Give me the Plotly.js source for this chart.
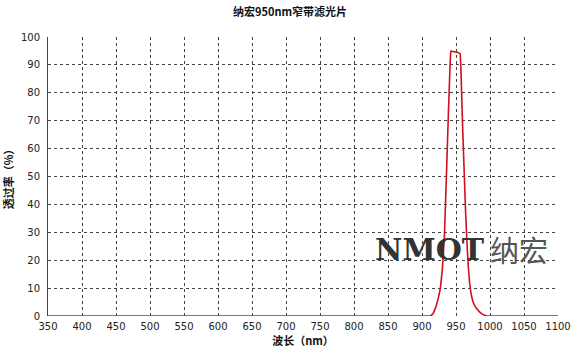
<!DOCTYPE html>
<html><head><meta charset="utf-8">
<script src="https://cdn.plot.ly/plotly-3.0.1.min.js"></script>
<style>html,body{margin:0;padding:0;background:#fff}#c{width:580px;height:357px}</style>
</head><body><div id="c"></div>
<script>
const wavelength = [350, 700, 900, 912, 916, 920, 924, 927, 930, 933, 936, 939, 941, 942.5, 946, 950, 954, 956, 957, 958, 960, 962, 964, 966, 968, 970, 973, 976, 980, 985, 990, 996, 1100];
const transmittance = [0, 0, 0, 0, 0.8, 3, 6.5, 10, 17, 29, 51, 74, 88, 95, 94.8, 94.6, 94.3, 94, 90, 82, 66, 52, 38, 27, 18, 12, 7, 4.5, 2.8, 1.4, 0.5, 0, 0];
const xTicks = [350,400,450,500,550,600,650,700,750,800,850,900,950,1000,1050,1100];
const yTicks = [0,10,20,30,40,50,60,70,80,90,100];
const chartTitle = '纳宏950nm窄带滤光片';
const xLabel = '波长（nm）';
const yLabel = '透过率（%）';
const watermarkLatin = 'NMOT';
const watermarkCJK = '纳宏';

const tickFont = {family: 'DejaVu Sans, sans-serif', size: 10, color: '#222'};
Plotly.newPlot('c', [{
  x: wavelength, y: transmittance, type: 'scatter', mode: 'lines',
  line: {color: '#d0101e', width: 1.6, shape: 'spline', smoothing: 0.2},
  hoverinfo: 'skip', showlegend: false
}], {
  width: 580, height: 357,
  margin: {l: 48, r: 22, t: 37, b: 41},
  paper_bgcolor: '#fff', plot_bgcolor: '#fff',
  title: {text: '<b>' + chartTitle + '</b>', x: 0.5, xanchor: 'center', y: 0.965, yanchor: 'middle',
          font: {family: 'Noto Sans CJK SC, sans-serif', size: 11, color: '#111'}},
  xaxis: {
    range: [350, 1100], tickvals: xTicks, ticktext: xTicks.map(String),
    showgrid: true, gridcolor: '#444', griddash: 'dot', gridwidth: 1,
    zeroline: false, showline: false, ticks: '', ticklen: 0,
    tickfont: tickFont, ticklabelstandoff: 3,
    title: {text: '<b>' + xLabel + '</b>', standoff: 4, font: {family: 'Noto Sans CJK SC, sans-serif', size: 11, color: '#111'}}
  },
  yaxis: {
    range: [0, 100], tickvals: yTicks, ticktext: yTicks.map(String),
    showgrid: true, gridcolor: '#444', griddash: 'dot', gridwidth: 1,
    zeroline: false, showline: true, linecolor: '#444', linewidth: 1,
    ticks: '', tickfont: tickFont, ticklabelstandoff: 5,
    title: {text: '<b>' + yLabel + '</b>', standoff: 11, font: {family: 'Noto Sans CJK SC, sans-serif', size: 11, color: '#111'}}
  },
  annotations: [{
    xref: 'paper', yref: 'paper', x: 0.638, y: 0.24, xanchor: 'left', yanchor: 'middle',
    text: '<b>' + watermarkLatin + '</b>', showarrow: false,
    font: {family: 'DejaVu Serif, serif', size: 30, color: '#333'}
  }, {
    xref: 'paper', yref: 'paper', x: 0.862, y: 0.24, xanchor: 'left', yanchor: 'middle',
    text: watermarkCJK, showarrow: false,
    font: {family: 'Noto Sans CJK SC, sans-serif', size: 29, color: '#555'}
  }]
}, {staticPlot: true});
</script></body></html>
